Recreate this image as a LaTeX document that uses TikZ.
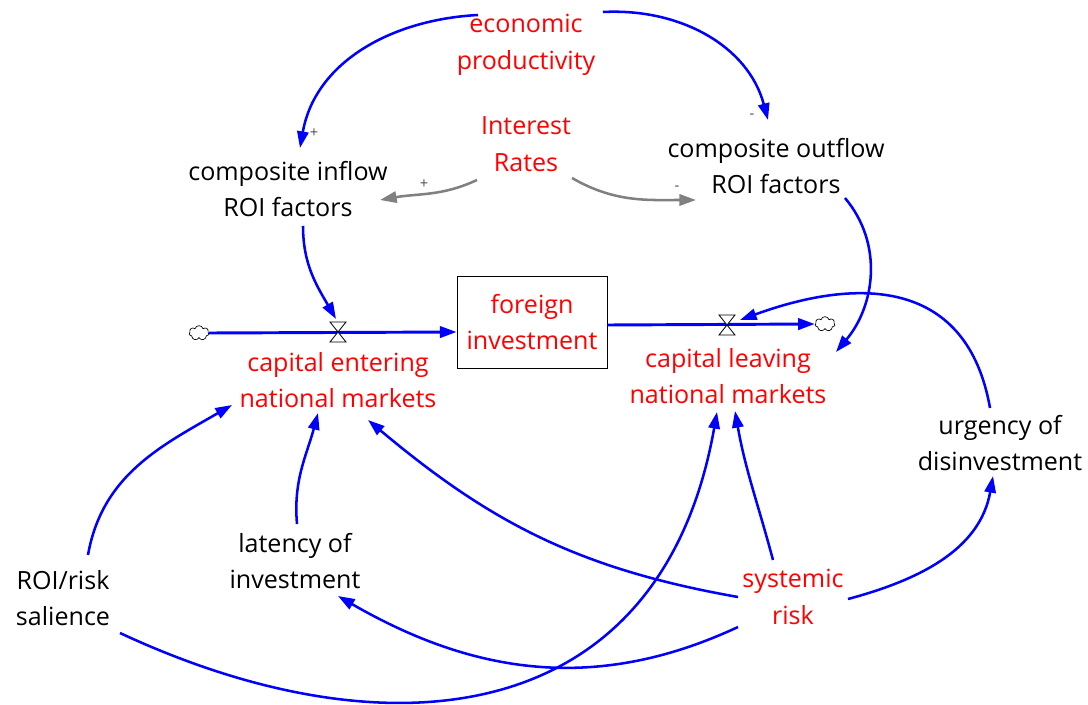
\documentclass[tikz,border=0pt]{standalone}
\usepackage{fontspec}
\setmainfont{Open Sans}
\usetikzlibrary{arrows.meta,calc,shapes.symbols}
\definecolor{vblue}{RGB}{0,0,255}
\definecolor{vred}{RGB}{255,0,0}
\definecolor{vgray}{RGB}{128,128,128}
\tikzset{
  var/.style={align=center, inner sep=1pt, font=\fontsize{18.8}{27.5}\selectfont},
  redvar/.style={var, text=vred},
  link/.style={draw=vblue, line width=1.9pt, -{Triangle[length=12.5pt,width=8.5pt]}},
  glink/.style={link, draw=vgray},
  flowpipe/.style={draw=vblue, line width=2.2pt, -{Triangle[length=12.5pt,width=8.5pt]}},
  pol/.style={text=black!70, font=\fontsize{11}{11}\selectfont, inner sep=0pt},
  valve/.style={draw=black, fill=white, line width=0.6pt},
  sourcecloud/.style={cloud, cloud puffs=7, draw, line width=0.5pt, fill=white,
    minimum width=15pt, minimum height=11pt, inner sep=0pt},
}

\begin{document}
\begin{tikzpicture}[x=0.75pt,y=0.75pt]
    %%%%% START %%%%%
    \useasboundingbox (0,0) rectangle (1088,704);

    % auxiliaries
    \node[redvar] (econ) at (526,659) {economic\\productivity};
    \node[redvar] (rates) at (526,560) {Interest\\Rates};
    \node[var] (cin) at (288,515) {composite inflow\\ROI factors};
    \node[var] (cout) at (776,538) {composite outflow\\ROI factors};
    \node[var] (urgency) at (1000,261) {urgency of\\disinvestment};
    \node[var] (latency) at (295,143) {latency of\\investment};
    \node[var] (salience) at (63,106) {ROI/risk\\salience};
    \node[redvar] (sysrisk) at (793,107) {systemic\\risk};

    % stock and flows
    \node[redvar, draw=black, line width=0.6pt, minimum width=112.5pt, minimum height=69pt] (fi) at (532,382) {foreign\\investment};
    \node[sourcecloud] (srcL) at (199,371) {};
    \node[sourcecloud] (sinkR) at (825,380) {};
    \coordinate (vin) at (338,372);
    \coordinate (vout) at (727,379);
    \node[redvar] (centering) at (338,324) {capital entering\\national markets};
    \node[redvar] (cleaving) at (728,328) {capital leaving\\national markets};

    \draw[flowpipe] (srcL.east) -- (fi.west |- vin);
    \draw[flowpipe] (fi.east |- vout) -- (sinkR.west);
    \draw[valve, shift={(vin)}] (-8,10) -- (8,10) -- (-8,-10) -- (8,-10) -- cycle;
    \draw[valve, shift={(vout)}] (-8,10) -- (8,10) -- (-8,-10) -- (8,-10) -- cycle;

    % links
    \draw[link] ($(econ)+(-48,30)$) to[out=183,in=80] ($(cin)+(12,41)$);
    \draw[link] ($(econ)+(77,33)$) to[out=3,in=105] ($(cout)+(-8,46)$);
    \draw[glink] ($(rates)+(-49,-36)$) to[out=205,in=10] ($(cin)+(92,-11)$);
    \draw[glink] ($(rates)+(46,-34)$) to[out=-30,in=180] ($(cout)+(-80,-34)$);
    \draw[link] ($(cin)+(15,-37)$) to[out=-90,in=120] ($(vin)+(-2,13)$);
    \draw[link] ($(cout)+(69,-32)$) to[out=-50,in=50] ($(cleaving)+(108,24)$);
    \draw[link] ($(urgency)+(-10,35)$) to[out=100,in=20,looseness=1.25] ($(vout)+(13,5)$);
    \draw[link] ($(salience)+(25,43)$) to[out=80,in=210] ($(centering)+(-106,-25)$);
    \draw[link] ($(salience)+(57,-35)$) .. controls +(-25:300) and +(-100:320) .. ($(cleaving)+(-11,-36)$);
    \draw[link] ($(latency)+(2,37)$) to[out=95,in=-105] ($(centering)+(-20,-33)$);
    \draw[link] ($(sysrisk)+(-55,0)$) to[out=170,in=-40] ($(centering)+(30,-40)$);
    \draw[link] ($(sysrisk)+(-20,37)$) to[out=105,in=-80] ($(cleaving)+(7,-35)$);
    \draw[link] ($(sysrisk)+(55,-2)$) to[out=15,in=-100] ($(urgency)+(-7,-33)$);
    \draw[link] ($(sysrisk)+(-55,-30)$) to[out=205,in=-30] ($(latency)+(43,-35)$);

    % polarities
    \node[pol] (pin) at (314,571) {+};
    \node[pol] (pout) at (752,588) {-};
    \node[pol] (prin) at (424,520) {+};
    \node[pol] (prout) at (677,516) {-};
    %%%%% END %%%%%
\end{tikzpicture}
\end{document}
